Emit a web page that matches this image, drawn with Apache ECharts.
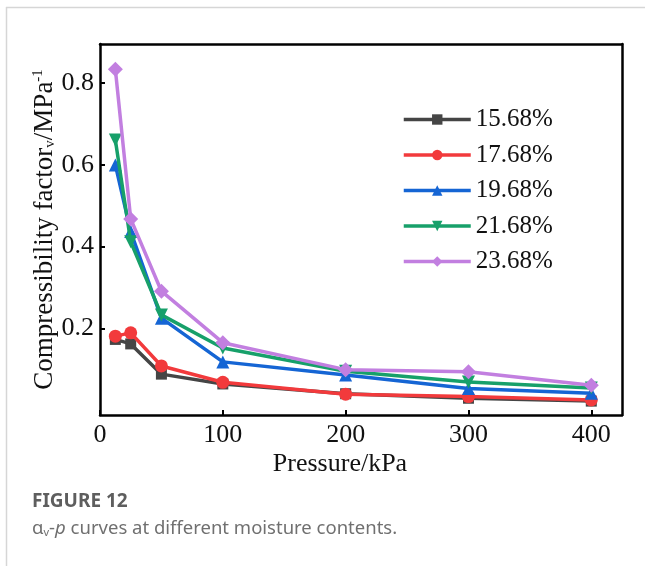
<!DOCTYPE html>
<html lang="en">
<head>
  <meta charset="UTF-8">
  <title>av-p curves</title>
  <script src="https://cdn.jsdelivr.net/npm/echarts@6.0.0/dist/echarts.min.js"></script>
  <style>
    html, body { margin: 0; padding: 0; background: #fff; }
    #chart { width: 645px; height: 566px; }
  </style>
</head>
<body>
  <div id="chart"></div>
  <script>
    // pressure steps (kPa)
    const pressure = [12.5, 25, 50, 100, 200, 300, 400];
    const moistureNames = ['15.68%', '17.68%', '19.68%', '21.68%', '23.68%'];
    const av1568 = [0.173, 0.162, 0.088, 0.064, 0.040, 0.029, 0.022];
    const av1768 = [0.181, 0.189, 0.108, 0.068, 0.039, 0.033, 0.025];
    const av1968 = [0.600, 0.437, 0.225, 0.118, 0.086, 0.053, 0.041];
    const av2168 = [0.661, 0.412, 0.233, 0.152, 0.095, 0.069, 0.054];
    const av2368 = [0.834, 0.468, 0.291, 0.165, 0.099, 0.094, 0.061];
    const yTicks = [0.2, 0.4, 0.6, 0.8];
    const xTicks = [0, 100, 200, 300, 400];

    const colors = ['#454545', '#f23a3c', '#1565d4', '#17a06a', '#c27fe0'];
    const symbols = ['rect', 'circle', 'triangle', 'path://M0,0 L10,0 L5,10 Z', 'diamond'];
    const symbolSizes = [11, 13, 13, 13, 15];
    const allData = [av1568, av1768, av1968, av2168, av2368];

    const serif = '"Liberation Serif", "Times New Roman", serif';
    const sans = '"Noto Sans", "Open Sans", sans-serif';

    const series = moistureNames.map((name, i) => ({
      name: name,
      type: 'line',
      data: pressure.map((p, j) => [p, allData[i][j]]),
      symbol: symbols[i],
      symbolSize: symbolSizes[i],
      showAllSymbol: true,
      color: colors[i],
      lineStyle: { width: 3.5, color: colors[i] },
      itemStyle: { color: colors[i] },
      z: 2 + i
    }));

    const chart = echarts.init(document.getElementById('chart'));
    chart.setOption({
      animation: false,
      backgroundColor: '#fff',
      textStyle: { fontFamily: serif },
      grid: { left: 100, right: 23, top: 44, bottom: 151, containLabel: false },
      legend: {
        data: moistureNames,
        orient: 'vertical',
        left: 397,
        top: 102,
        itemWidth: 67,
        itemHeight: 13,
        itemGap: 10.5,
        lineStyle: { width: 3.5 },
        textStyle: { fontFamily: serif, fontSize: 25, color: '#111' }
      },
      xAxis: [{
        type: 'value',
        min: 0,
        max: 425,
        name: 'Pressure/kPa',
        nameLocation: 'middle',
        nameGap: 36,
        nameMoveOverlap: false,
        nameTextStyle: { fontFamily: serif, fontSize: 26, color: '#111', padding: [0, 42, 0, 0] },
        axisLine: { show: true, onZero: false, lineStyle: { color: '#000', width: 2.5 } },
        axisTick: { show: true, inside: true, length: 5, customValues: xTicks, lineStyle: { color: '#000', width: 2 } },
        axisLabel: { customValues: xTicks, fontFamily: serif, fontSize: 26, color: '#111', margin: 7 },
        splitLine: { show: false }
      }, {
        type: 'value',
        position: 'top',
        min: 0,
        max: 425,
        axisLine: { show: true, onZero: false, lineStyle: { color: '#000', width: 2.5 } },
        axisTick: { show: false },
        axisLabel: { show: false },
        splitLine: { show: false }
      }],
      yAxis: [{
        type: 'value',
        min: -0.012,
        max: 0.896,
        name: '{a|Compressibility factor}{sub|v}{a|/MPa}{sup|-1}',
        nameLocation: 'middle',
        nameRotate: 90,
        nameGap: 42,
        nameMoveOverlap: false,
        nameTextStyle: {
          rich: {
            a: { fontFamily: serif, fontSize: 27, color: '#111' },
            sub: { fontFamily: serif, fontSize: 15, color: '#111', verticalAlign: 'bottom', padding: [8, 0, 0, 0] },
            sup: { fontFamily: serif, fontSize: 15, color: '#111', verticalAlign: 'top', padding: [0, 0, 8, 0] }
          }
        },
        axisLine: { show: true, onZero: false, lineStyle: { color: '#000', width: 2.5 } },
        axisTick: { show: true, inside: true, length: 5, customValues: yTicks, lineStyle: { color: '#000', width: 2 } },
        axisLabel: { customValues: yTicks, fontFamily: serif, fontSize: 26, color: '#111', margin: 6,
          formatter: v => v.toFixed(1) },
        splitLine: { show: false }
      }, {
        type: 'value',
        position: 'right',
        min: -0.012,
        max: 0.896,
        axisLine: { show: true, onZero: false, lineStyle: { color: '#000', width: 2.5 } },
        axisTick: { show: false },
        axisLabel: { show: false },
        splitLine: { show: false }
      }],
      graphic: [
        { type: 'line', shape: { x1: 6, y1: 7.5, x2: 645, y2: 7.5 }, style: { stroke: '#d6d6d6', lineWidth: 1.5 } },
        { type: 'line', shape: { x1: 6.5, y1: 7, x2: 6.5, y2: 566 }, style: { stroke: '#d6d6d6', lineWidth: 1.5 } },
        {
          type: 'text', left: 32, top: 492,
          style: { text: 'FIGURE 12', fontFamily: sans, fontSize: 19, fontWeight: 'bold', fill: '#5e5e5e' }
        },
        {
          type: 'text', left: 32, top: 519,
          style: {
            text: '{t|α}{s|v}{t|-}{i|p}{t| curves at different moisture contents.}',
            rich: {
              t: { fontFamily: sans, fontSize: 18.5, fill: '#707070' },
              s: { fontFamily: sans, fontSize: 11, fill: '#707070', verticalAlign: 'bottom', padding: [7, 0, 0, 0] },
              i: { fontFamily: sans, fontSize: 18.5, fontStyle: 'italic', fill: '#707070' }
            }
          }
        }
      ],
      series: series
    });
  </script>
</body>
</html>
